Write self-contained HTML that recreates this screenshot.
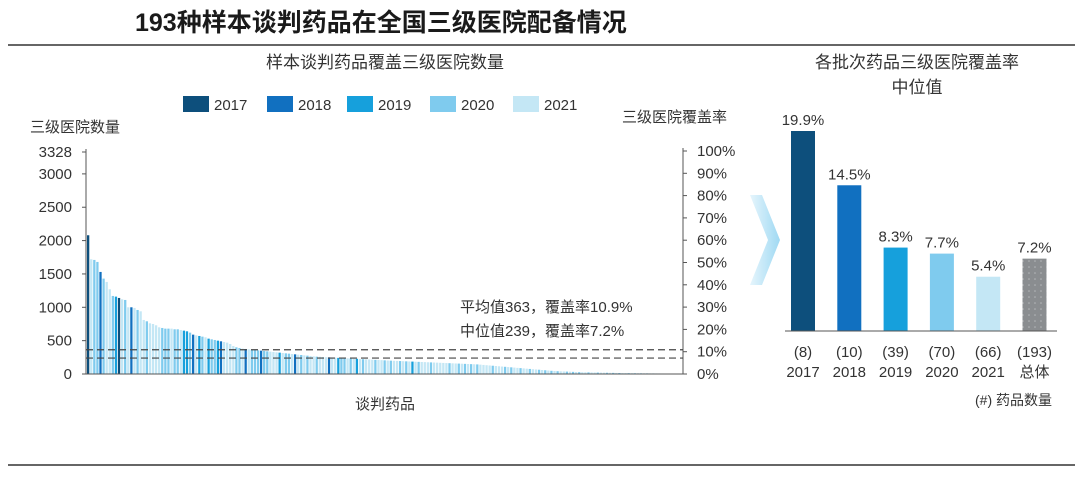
<!DOCTYPE html>
<html><head><meta charset="utf-8"><style>
body{margin:0;background:#fff;width:1080px;height:473px;overflow:hidden;font-family:"Liberation Sans","Noto Sans CJK SC",sans-serif}
svg text{font-family:"Liberation Sans","Noto Sans CJK SC",sans-serif}
</style></head><body>
<svg id="c" width="1080" height="473">
<defs><linearGradient id="ag" x1="0" x2="1"><stop offset="0" stop-color="#e6f5fc"/><stop offset="1" stop-color="#9fd9f3"/></linearGradient>
<pattern id="dots" width="6" height="6" patternUnits="userSpaceOnUse"><rect width="6" height="6" fill="#8a8d90"/><circle cx="3" cy="3" r="0.8" fill="#b5b7b9"/></pattern></defs>
<text x="135" y="31" font-size="25" font-weight="bold" fill="#1a1a1a">193种样本谈判药品在全国三级医院配备情况</text>
<line x1="8" y1="45" x2="1075" y2="45" stroke="#333" stroke-width="1.5"/>
<line x1="8" y1="465" x2="1075" y2="465" stroke="#333" stroke-width="1.5"/>
<text x="385" y="68" font-size="17" text-anchor="middle" fill="#333">样本谈判药品覆盖三级医院数量</text>
<text x="30" y="132" font-size="15" fill="#333">三级医院数量</text>
<text x="622" y="122" font-size="15" fill="#333">三级医院覆盖率</text>
<text x="385" y="409" font-size="15" text-anchor="middle" fill="#333">谈判药品</text>
<g id="legend"></g>
<g id="left"></g>
<text x="460" y="312" font-size="15" fill="#333">平均值363，覆盖率10.9%</text>
<text x="460" y="336" font-size="15" fill="#333">中位值239，覆盖率7.2%</text>
<polygon points="750,195 762,195 780,240 762,285 750,285 768,240" fill="url(#ag)"/>
<text x="917" y="68" font-size="17" text-anchor="middle" fill="#333">各批次药品三级医院覆盖率</text>
<text x="917" y="93" font-size="17" text-anchor="middle" fill="#333">中位值</text>
<g id="right"></g>
<text x="1052" y="405" font-size="14" text-anchor="end" fill="#333">(#)  药品数量</text>
</svg>
<script>
const years=["2017","2018","2019","2020","2021"];
const yearColors=["#0d4f7c","#1170c0","#16a0dc","#7fcbee","#c4e7f5"];
const drugValues=[2080,1720,1710,1680,1530,1430,1380,1270,1170,1160,1140,1120,1110,1000,1000,990,960,940,810,790,760,750,730,700,690,680,680,680,670,670,660,650,640,620,590,580,570,560,550,530,520,510,500,490,480,470,450,420,400,390,380,375,370,365,360,355,350,345,340,335,330,325,320,315,310,305,300,295,290,285,280,275,270,265,260,258,255,252,250,248,245,242,240,238,235,232,230,228,225,222,220,218,215,212,210,208,205,202,200,
198,196,194,192,190,188,186,184,182,180,178,176,174,172,170,168,166,164,162,160,158,156,154,152,150,148,146,144,140,136,132,128,124,120,116,112,108,104,100,96,92,88,84,80,76,72,68,64,60,56,52,48,45,42,40,38,36,34,32,30,28,27,26,25,24,23,22,21,20,19,18,17,16,15,14,14,13,13,12,12,11,11,10,10,9,9,8,8,7,7,6,6,5];
const drugYears="0433134432043414344344443334334223142342332144443341433313344424334143434434441442334342434443443434434342434443444443443434343444434443434434434434343434434343443443443434344343434343434343434343";
const leftTicks=[0,500,1000,1500,2000,2500,3000,3328];
const rightTicks=[0,10,20,30,40,50,60,70,80,90,100];
const meanVal=363, medianVal=239;
const batchLabels=["2017","2018","2019","2020","2021","总体"];
const batchCounts=["(8)","(10)","(39)","(70)","(66)","(193)"];
const batchRates=[19.9,14.5,8.3,7.7,5.4,7.2];
const NS="http://www.w3.org/2000/svg";
function mk(tag,attrs,parent,txt){const e=document.createElementNS(NS,tag);for(const k in attrs)e.setAttribute(k,attrs[k]);if(txt!==undefined)e.textContent=txt;parent.appendChild(e);return e;}
const L=document.getElementById('left');
const x0=86,x1=683,yb=374,maxV=3328,yTop=152;
const ly=v=>yb-(v/maxV)*(yb-yTop);
const ry=p=>yb-(p/100)*(yb-151);
const bw=(x1-x0-4)/drugValues.length;
drugValues.forEach((v,i)=>{
  const yi=Math.min(4,+(drugYears[i]||"4"));
  const r=mk('rect',{x:x0+1+i*bw,y:ly(v),width:Math.max(bw-0.8,1),height:yb-ly(v),fill:yearColors[yi]},L);
  
  
});
let a=mk('line',{x1:x0,y1:yTop-3,x2:x0,y2:yb,stroke:'#555'},L);
a=mk('line',{x1:x1,y1:148,x2:x1,y2:yb,stroke:'#555'},L);
a=mk('line',{x1:x0,y1:yb,x2:x1,y2:yb,stroke:'#555'},L);
leftTicks.forEach(t=>{
  mk('line',{x1:x0-4,y1:ly(t),x2:x0,y2:ly(t),stroke:'#555'},L);
  const tx=mk('text',{x:72,y:ly(t)+5,'font-size':15,'text-anchor':'end',fill:'#333'},L,String(t));
  
  
});
rightTicks.forEach(t=>{
  mk('line',{x1:x1,y1:ry(t),x2:x1+4,y2:ry(t),stroke:'#555'},L);
  const tx=mk('text',{x:697,y:ry(t)+5,'font-size':15,fill:'#333'},L,t+'%');
  
  
});
[meanVal,medianVal].forEach(v=>{
  const d=mk('line',{x1:x0,y1:ly(v),x2:x1,y2:ly(v),stroke:'#444','stroke-width':1.2,'stroke-dasharray':'7,4'},L);
  
  
});
const G=document.getElementById('legend');
const lx=[183,267,347,430,513];
years.forEach((y,i)=>{
  const r=mk('rect',{x:lx[i],y:96,width:26,height:16,fill:yearColors[i]},G);
  
  
  const t=mk('text',{x:lx[i]+31,y:110,'font-size':15,fill:'#333'},G,y);
  
  
});
const R=document.getElementById('right');
const rb=331,pxPer=(331-131)/19.9,cx0=803,step=46.3,w=24;
const barColors=["#0d4f7c","#1170c0","#16a0dc","#7fcbee","#c4e7f5","url(#dots)"];
batchRates.forEach((v,i)=>{
  const cx=cx0+i*step,h=v*pxPer;
  const r=mk('rect',{x:cx-w/2,y:rb-h,width:w,height:h,fill:barColors[i]},R);
  
  
  const t=mk('text',{x:cx,y:rb-h-6,'font-size':15,'text-anchor':'middle',fill:'#333'},R,v.toFixed(1)+'%');
  
  
  const c=mk('text',{x:cx,y:357,'font-size':15,'text-anchor':'middle',fill:'#333'},R,batchCounts[i]);
  
  
  const l=mk('text',{x:cx,y:377,'font-size':15,'text-anchor':'middle',fill:'#333'},R,batchLabels[i]);
  
  
});
a=mk('line',{x1:785,y1:rb,x2:1057,y2:rb,stroke:'#555'},R);
</script>
</body></html>
